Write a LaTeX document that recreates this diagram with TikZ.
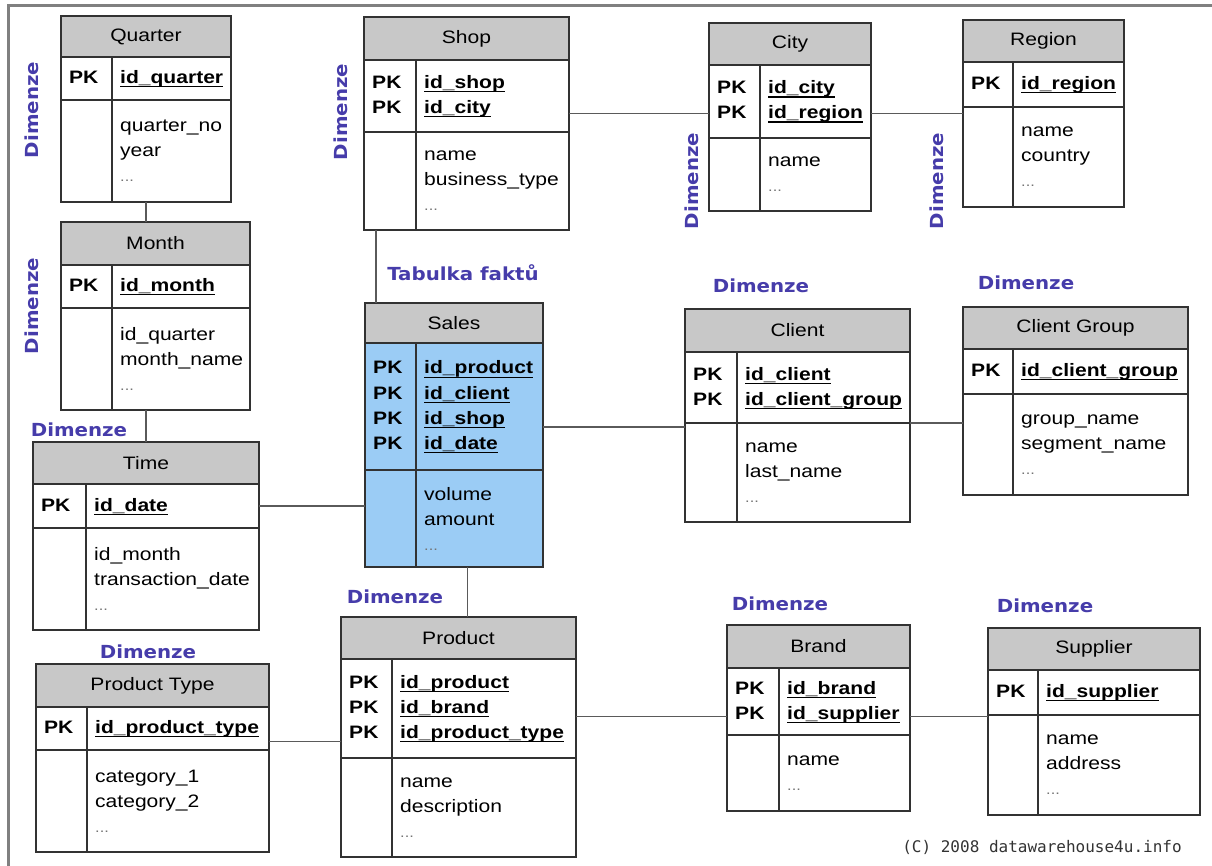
\documentclass[tikz,border=0pt]{standalone}
\usepackage{fontspec}
\setmainfont{Liberation Sans}[FakeStretch=1.17]
\newfontfamily\dimfont{DejaVu Sans}[FakeStretch=1.1]
\newfontfamily\copyfont{DejaVu Sans Mono}

\definecolor{headgrey}{RGB}{200,200,200}
\definecolor{salesblue}{RGB}{155,204,245}
\definecolor{dimblue}{RGB}{70,60,170}
\definecolor{boxline}{RGB}{50,50,50}
\definecolor{linkgrey}{RGB}{90,90,90}

\tikzset{
    tabhead/.style={draw=boxline,line width=1.6pt,fill=headgrey,anchor=north west,outer sep=0pt,inner sep=0pt,font=\fontsize{18}{25}\selectfont},
    tabcell/.style={draw=boxline,line width=1.6pt,fill=white,anchor=north west,outer sep=0pt,inner sep=0pt},
    keytext/.style={anchor=west,inner xsep=8pt,inner ysep=0pt,font=\fontsize{18}{25}\selectfont},
    attrtext/.style={anchor=west,align=left,inner xsep=8pt,inner ysep=0pt,font=\fontsize{18}{25}\selectfont},
    link/.style={draw=linkgrey,line width=1.6pt},
    dimlabel/.style={text=dimblue,inner sep=0pt,font=\dimfont\bfseries\fontsize{18}{20}\selectfont},
}

\newsavebox\keybox
\newcommand\pkmark{\textbf{PK}}
\newcommand\keyname[1]{\sbox\keybox{\bfseries #1}\smash{\rlap{\rule[-3.6pt]{\wd\keybox}{1.1pt}}}\usebox\keybox}
\newcommand\more{\textcolor{black!55}{\fontsize{14}{25}\selectfont...}}

% #1 name, #2 x, #3 y, #4 width, #5 key column, #6 head, #7 keys, #8 attributes, #9 title
\newcommand\dbtable[9]{%
    \node[tabhead,minimum width=#4pt,minimum height=#6pt] (#1) at (#2,#3) {#9};
    \node[tabcell,minimum width=#5pt,minimum height=#7pt] (#1-pk) at (#1.south west) {};
    \node[tabcell,minimum width=#4pt-#5pt,minimum height=#7pt] (#1-key) at (#1-pk.north east) {};
    \node[tabcell,minimum width=#5pt,minimum height=#8pt] (#1-nk) at (#1-pk.south west) {};
    \node[tabcell,minimum width=#4pt-#5pt,minimum height=#8pt] (#1-att) at (#1-nk.north east) {};
}
\newcommand\dbkeys[3]{%
    \node[keytext] (#1-keys) at (#1-pk.west) {\begin{tabular}{@{}p{#2pt}@{}l@{}}#3\end{tabular}};
}
\newcommand\dbattrs[2]{%
    \node[attrtext] (#1-attrs) at (#1-att.west) {#2};
}

\begin{document}
\begin{tikzpicture}[x=1pt,y=-1pt]
    \useasboundingbox (0,0) rectangle (1212,866);
    \draw[black!50,line width=3pt] (8,866) -- (8,6) -- (1212,6);

    % time dimension
    \dbtable{quarter}{61}{16}{170}{51}{41}{43}{102}{Quarter}
    \dbkeys{quarter}{51}{\pkmark & \keyname{id\_quarter}}
    \dbattrs{quarter}{quarter\_no\\year\\\more}

    \dbtable{month}{61}{222}{189}{51}{43}{43}{102}{Month}
    \dbkeys{month}{51}{\pkmark & \keyname{id\_month}}
    \dbattrs{month}{id\_quarter\\month\_name\\\more}

    \dbtable{time}{33}{442}{226}{53}{42}{44}{102}{Time}
    \dbkeys{time}{53}{\pkmark & \keyname{id\_date}}
    \dbattrs{time}{id\_month\\transaction\_date\\\more}

    % shop dimension
    \dbtable{shop}{364}{17}{205}{52}{43}{72}{98}{Shop}
    \dbkeys{shop}{52}{\pkmark & \keyname{id\_shop}\\ \pkmark & \keyname{id\_city}}
    \dbattrs{shop}{name\\business\_type\\\more}

    \dbtable{city}{709}{23}{162}{51}{42}{73}{73}{City}
    \dbkeys{city}{51}{\pkmark & \keyname{id\_city}\\ \pkmark & \keyname{id\_region}}
    \dbattrs{city}{name\\\more}

    \dbtable{region}{963}{20}{161}{50}{42}{45}{100}{Region}
    \dbkeys{region}{50}{\pkmark & \keyname{id\_region}}
    \dbattrs{region}{name\\country\\\more}

    % fact table
    \begin{scope}[tabcell/.append style={fill=salesblue}]
        \dbtable{sales}{365}{303}{178}{51}{40}{127}{97}{Sales}
    \end{scope}
    \dbkeys{sales}{51}{\pkmark & \keyname{id\_product}\\ \pkmark & \keyname{id\_client}\\
        \pkmark & \keyname{id\_shop}\\ \pkmark & \keyname{id\_date}}
    \dbattrs{sales}{volume\\amount\\\more}

    % client dimension
    \dbtable{client}{685}{309}{225}{52}{43}{71}{99}{Client}
    \dbkeys{client}{52}{\pkmark & \keyname{id\_client}\\ \pkmark & \keyname{id\_client\_group}}
    \dbattrs{client}{name\\last\_name\\\more}

    \dbtable{cgroup}{963}{307}{225}{50}{42}{45}{101}{Client Group}
    \dbkeys{cgroup}{50}{\pkmark & \keyname{id\_client\_group}}
    \dbattrs{cgroup}{group\_name\\segment\_name\\\more}

    % product dimension
    \dbtable{product}{341}{617}{235}{51}{42}{99}{99}{Product}
    \dbkeys{product}{51}{\pkmark & \keyname{id\_product}\\ \pkmark & \keyname{id\_brand}\\
        \pkmark & \keyname{id\_product\_type}}
    \dbattrs{product}{name\\description\\\more}

    \dbtable{ptype}{36}{664}{233}{51}{43}{43}{102}{Product Type}
    \dbkeys{ptype}{51}{\pkmark & \keyname{id\_product\_type}}
    \dbattrs{ptype}{category\_1\\category\_2\\\more}

    \dbtable{brand}{727}{625}{183}{52}{43}{67}{76}{Brand}
    \dbkeys{brand}{52}{\pkmark & \keyname{id\_brand}\\ \pkmark & \keyname{id\_supplier}}
    \dbattrs{brand}{name\\\more}

    \dbtable{supplier}{988}{628}{212}{50}{42}{45}{100}{Supplier}
    \dbkeys{supplier}{50}{\pkmark & \keyname{id\_supplier}}
    \dbattrs{supplier}{name\\address\\\more}

    % links
    \draw[link] (quarter.south |- quarter-att.south) -- (quarter.south |- month.north);
    \draw[link] (time.north |- month-att.south) -- (time.north);
    \draw[link] (time-key.east) -- (time-key.east -| sales.west);
    \draw[link] ([xshift=11pt]sales.north west |- shop-nk.south) -- ([xshift=11pt]sales.north west);
    \draw[link] ([yshift=-12pt]shop-key.east |- city-pk.west) -- ([yshift=-12pt]city-pk.west);
    \draw[link] ([yshift=-12pt]city-key.east) -- ([yshift=-12pt]city-key.east -| region.west);
    \draw[link] ([yshift=-4pt]sales-key.east |- client-nk.north west) -- ([yshift=-4pt]client-nk.north west);
    \draw[link] (client-att.north east) -- (client-att.north east -| cgroup.west);
    \draw[link] ([xshift=9pt]product.north |- sales-att.south) -- ([xshift=9pt]product.north);
    \draw[link] ([yshift=-13pt]ptype-key.east) -- ([yshift=-13pt]ptype-key.east -| product.west);
    \draw[link] ([yshift=-8pt]product-key.east) -- ([yshift=-8pt]product-key.east -| brand.west);
    \draw[link] ([yshift=-15pt]brand-key.east) -- ([yshift=-15pt]brand-key.east -| supplier.west);

    % labels
    \node[dimlabel,rotate=90] (dimquarter) at (32,110) {Dimenze};
    \node[dimlabel,rotate=90] (dimmonth) at (32,306) {Dimenze};
    \node[dimlabel,rotate=90] (dimshop) at (341,112) {Dimenze};
    \node[dimlabel,rotate=90] (dimcity) at (692,181) {Dimenze};
    \node[dimlabel,rotate=90] (dimregion) at (937,181) {Dimenze};
    \node[dimlabel] (dimtime) at (79,430) {Dimenze};
    \node[dimlabel] (dimclient) at (761,286) {Dimenze};
    \node[dimlabel] (dimcgroup) at (1026,283) {Dimenze};
    \node[dimlabel] (dimproduct) at (395,597) {Dimenze};
    \node[dimlabel] (dimptype) at (148,652) {Dimenze};
    \node[dimlabel] (dimbrand) at (780,604) {Dimenze};
    \node[dimlabel] (dimsupplier) at (1045,606) {Dimenze};
    \node[dimlabel] (facts) at (463,273) {Tabulka faktů};
    \node[text=black!80,inner sep=0pt,font=\copyfont\fontsize{16}{18}\selectfont] (copy) at (1042,847) {(C) 2008 datawarehouse4u.info};
\end{tikzpicture}
\end{document}
